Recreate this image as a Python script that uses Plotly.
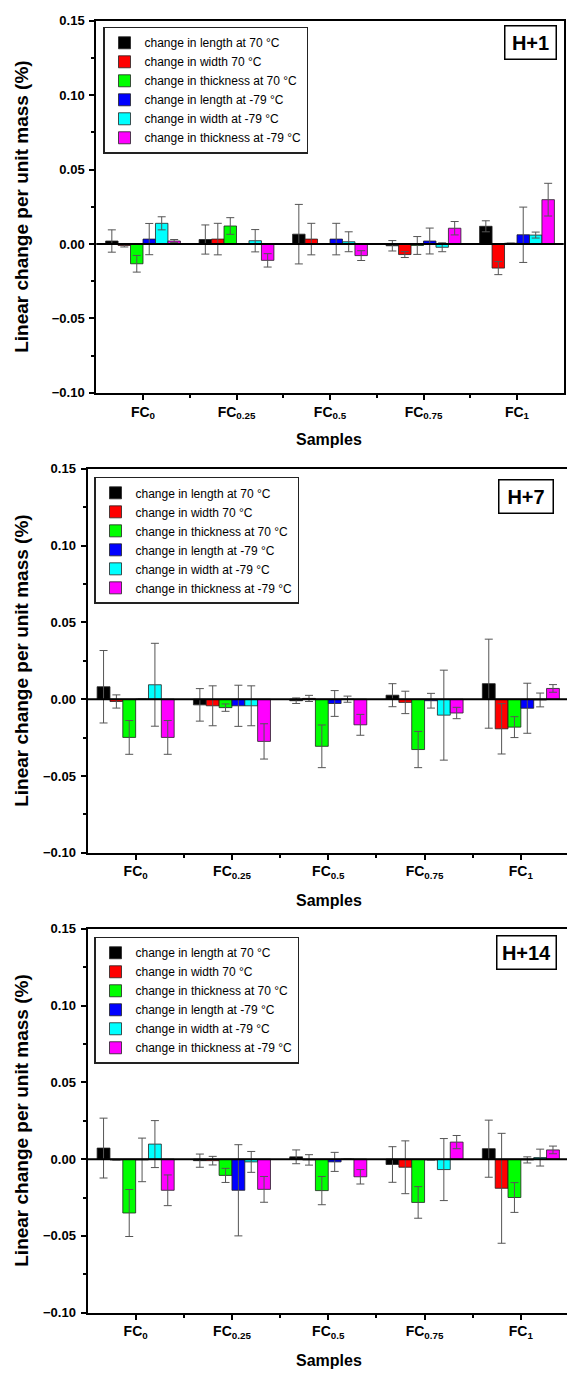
import plotly.graph_objects as go

W, H = 567, 1379
FONT = "Liberation Sans, Arial, sans-serif"

samples = ["FC<sub>0</sub>", "FC<sub>0.25</sub>", "FC<sub>0.5</sub>", "FC<sub>0.75</sub>", "FC<sub>1</sub>"]
series_names = [
    "change in length at 70 °C",
    "change in width 70 °C",
    "change in thickness at 70 °C",
    "change in length at -79 °C",
    "change in width at -79 °C",
    "change in thickness at -79 °C",
]
series_colors = ["#000000", "#ff0000", "#00ff00", "#0000ff", "#00ffff", "#ff00ff"]
panel_labels = ["H+1", "H+7", "H+14"]

# values[series][sample], errors[series][sample]  (None = no error bar)
h1_values = [
    [0.002, 0.003, 0.0066, -0.0012, 0.0119],
    [-0.001, 0.0033, 0.0033, -0.0071, -0.0162],
    [-0.0133, 0.0121, 0.0003, -0.001, 0.0005],
    [0.0033, 0.0, 0.0033, 0.002, 0.0062],
    [0.0139, 0.0022, 0.0015, -0.0022, 0.006],
    [0.002, -0.011, -0.0078, 0.0106, 0.0298],
]
h1_errors = [
    [0.0075, 0.0098, 0.02, 0.0035, 0.0037],
    [0.001, 0.0106, 0.0106, 0.002, 0.0044],
    [0.0056, 0.0056, None, 0.006, None],
    [0.0105, None, 0.0106, 0.0087, 0.0186],
    [0.0044, 0.0075, 0.0067, 0.003, 0.002],
    [0.001, 0.0045, 0.0033, 0.0045, 0.011],
]
h7_values = [
    [0.0081, -0.0037, -0.001, 0.0026, 0.0101],
    [-0.0015, -0.0043, 0.0005, -0.0021, -0.0193],
    [-0.0249, -0.0055, -0.0307, -0.0328, -0.0182],
    [0.0, -0.0043, -0.0028, -0.001, -0.0059],
    [0.0094, -0.0043, 0.0, -0.0104, -0.0005],
    [-0.0249, -0.0275, -0.0167, -0.009, 0.007],
]
h7_errors = [
    [0.0236, 0.0106, 0.0018, 0.0075, 0.029],
    [0.0043, 0.013, 0.002, 0.0073, 0.0164],
    [0.011, 0.0024, 0.0139, 0.0118, 0.0068],
    [None, 0.0134, 0.0084, 0.0048, 0.0163],
    [0.027, 0.013, 0.002, 0.0293, 0.0045],
    [0.011, 0.0115, 0.0068, 0.0037, 0.0025],
]
h14_values = [
    [0.0072, -0.001, 0.0015, -0.0035, 0.0068],
    [-0.0005, -0.001, -0.0005, -0.0053, -0.019],
    [-0.0351, -0.0106, -0.0205, -0.0282, -0.025],
    [-0.0005, -0.0203, -0.0018, -0.0005, -0.0005],
    [0.0098, -0.0018, 0.0, -0.0068, 0.001],
    [-0.0203, -0.0197, -0.0115, 0.0111, 0.006],
]
h14_errors = [
    [0.0195, 0.0043, 0.0045, 0.0116, 0.0186],
    [None, 0.0028, 0.0034, 0.0172, 0.0358],
    [0.0153, 0.0046, 0.0092, 0.0103, 0.0097],
    [0.0142, 0.0297, 0.0062, None, 0.002],
    [0.0153, 0.0068, None, 0.0202, 0.0055],
    [0.01, 0.0084, 0.0047, 0.0043, 0.0025],
]

panels = [
    dict(values=h1_values, errors=h1_errors, top=14, bottom=390, left=96.25, right=563.75,
         xmax=4.5, mirror_y=True, legend_xy=(103, 20), label_xy=(557, 18), label_w=44,
         title_x=329, title_y=437),
    dict(values=h7_values, errors=h7_errors, top=467, bottom=855, left=87.5, right=567,
         xmax=4.479, mirror_y=False, legend_xy=(94, 475), label_xy=(554, 477), label_w=47,
         title_x=329, title_y=903),
    dict(values=h14_values, errors=h14_errors, top=932, bottom=1320, left=87.5, right=567,
         xmax=4.479, mirror_y=False, legend_xy=(94, 940), label_xy=(557, 938), label_w=52,
         title_x=329, title_y=1368),
]

fig = go.Figure()
layout = dict(
    width=W, height=H,
    margin=dict(l=0, r=0, t=0, b=0),
    paper_bgcolor="white", plot_bgcolor="white",
    barmode="group", bargap=0.2, bargroupgap=0,
    font=dict(family=FONT, color="black"),
    showlegend=True,
    shapes=[], annotations=[],
)

x_idx = list(range(len(samples)))

for p, panel in enumerate(panels):
    sfx = "" if p == 0 else str(p + 1)
    xa, ya, lg = "x" + sfx, "y" + sfx, "legend" + sfx
    for s, name in enumerate(series_names):
        errs = [e if e is not None else float("nan") for e in panel["errors"][s]]
        fig.add_trace(go.Bar(
            x=x_idx, y=panel["values"][s], name=name,
            xaxis=xa, yaxis=ya, legend=lg,
            marker=dict(color=series_colors[s], line=dict(color="#222222", width=0.8)),
            error_y=dict(type="data", array=errs, visible=True,
                         color="#555555", thickness=1, width=4),
        ))

    layout["xaxis" + sfx] = dict(
        domain=[panel["left"] / W, panel["right"] / W],
        anchor=ya, range=[-0.5, panel["xmax"]],
        tickmode="array", tickvals=x_idx, ticktext=["<b>%s</b>" % t for t in samples],
        tickfont=dict(size=14, family=FONT),
        ticks="outside", ticklen=5, tickwidth=2, tickcolor="black",
        minor=dict(tickvals=[0.5, 1.5, 2.5, 3.5], ticks="outside", ticklen=3,
                   tickwidth=1.5, tickcolor="black"),
        showline=True, linewidth=2, linecolor="black", mirror=True,
        showgrid=False, zeroline=False, layer="above traces",
    )
    layout["yaxis" + sfx] = dict(
        domain=[1 - panel["bottom"] / H, 1 - panel["top"] / H],
        anchor=xa, range=[-0.10, 0.15],
        tickmode="linear", tick0=0, dtick=0.05, tickformat=".2f",
        tickfont=dict(size=13, family=FONT, weight="bold"), ticklabelstandoff=2,
        ticks="outside", ticklen=5, tickwidth=2, tickcolor="black",
        minor=dict(dtick=0.025, ticks="outside", ticklen=3, tickwidth=1.5, tickcolor="black"),
        showline=True, linewidth=2, linecolor="black", mirror=panel["mirror_y"],
        showgrid=False, zeroline=False, layer="above traces",
    )
    lx, ly = panel["legend_xy"]
    layout[lg] = dict(
        x=lx / W, y=1 - ly / H, xanchor="left", yanchor="top",
        bordercolor="#222222", borderwidth=1.5, bgcolor="white",
        font=dict(size=12, family=FONT), tracegroupgap=0, itemwidth=30,
    )
    # y = 0 baseline across the plot
    layout["shapes"].append(dict(
        type="line", xref=xa + " domain", yref=ya, x0=0, x1=1, y0=0, y1=0,
        line=dict(color="black", width=2), layer="above",
    ))
    bx, by = panel["label_xy"]
    layout["annotations"].append(dict(
        text="<b>%s</b>" % panel_labels[p], xref="paper", yref="paper",
        x=bx / W, y=1 - by / H, xanchor="right", yanchor="top", showarrow=False,
        font=dict(size=20, family=FONT), bordercolor="black", borderwidth=1.5,
        borderpad=3, bgcolor="white", width=panel["label_w"], height=26,
    ))
    layout["annotations"].append(dict(
        text="<b>Samples</b>", xref="paper", yref="paper",
        x=panel["title_x"] / W, y=1 - panel["title_y"] / H,
        xanchor="center", yanchor="middle",
        showarrow=False, font=dict(size=16, family=FONT),
    ))
    layout["annotations"].append(dict(
        text="<b>Linear change per unit mass (%)</b>", xref="paper", yref="paper",
        x=22 / W, y=1 - (panel["top"] + panel["bottom"]) / 2 / H,
        xanchor="center", yanchor="middle", textangle=-90, showarrow=False,
        font=dict(size=19, family=FONT),
    ))

fig.update_layout(**layout)
fig.write_html("out.html")
